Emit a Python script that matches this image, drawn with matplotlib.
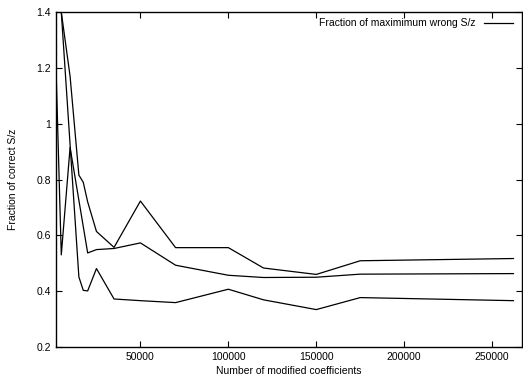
import matplotlib
matplotlib.use("Agg")
import matplotlib.pyplot as plt

plt.rcParams['font.family'] = ['Liberation Sans', 'DejaVu Sans']

# number of modified coefficients
x_top = [5000, 10000, 15000, 17500, 20000, 25000, 35000, 50000, 70000,
         100000, 120000, 150000, 175000, 262144]
y_top = [1.40, 1.17, 0.816, 0.79, 0.72, 0.614, 0.557, 0.723, 0.556,
         0.556, 0.483, 0.460, 0.509, 0.517]

x_mid = [2000, 5000, 10000, 20000, 25000, 35000, 50000, 70000,
         100000, 120000, 150000, 175000, 262144]
y_mid = [1.20, 0.53, 0.915, 0.537, 0.549, 0.553, 0.573, 0.493,
         0.457, 0.449, 0.450, 0.461, 0.463]

x_low = [5000, 15000, 17500, 20000, 25000, 35000, 50000, 70000,
         100000, 120000, 150000, 175000, 262144]
y_low = [1.40, 0.451, 0.403, 0.401, 0.481, 0.372, 0.366, 0.359,
         0.407, 0.369, 0.334, 0.377, 0.366]

xticks = [50000, 100000, 150000, 200000, 250000]
yticks = [0.2, 0.4, 0.6, 0.8, 1.0, 1.2, 1.4]
ytick_labels = ['0.2', '0.4', '0.6', '0.8', '1', '1.2', '1.4']

fig = plt.figure(figsize=(5.23, 3.84), dpi=100)
ax = fig.add_axes([0.1071, 0.0964, 0.891, 0.872])

ax.plot(x_top, y_top, color='black', lw=0.9,
        label='Fraction of maximimum wrong S/z')
ax.plot(x_mid, y_mid, color='black', lw=0.9)
ax.plot(x_low, y_low, color='black', lw=0.9)

ax.set_xlim(2000, 267000)
ax.set_ylim(0.2, 1.4)
ax.set_xticks(xticks)
ax.set_xticklabels([str(v) for v in xticks])
ax.set_yticks(yticks)
ax.set_yticklabels(ytick_labels)
ax.tick_params(direction='in', length=4, width=0.8, labelsize=7.5,
               top=True, right=True, colors='black')
for s in ax.spines.values():
    s.set_linewidth(1.0)

ax.set_xlabel('Number of modified coefficients', fontsize=7.5, labelpad=3)
ax.set_ylabel('Fraction of correct S/z', fontsize=7.5, labelpad=13)

ax.legend(loc='upper right', frameon=False, markerfirst=False, fontsize=7.5,
          handlelength=2.8, handletextpad=0.8, borderaxespad=0.2,
          bbox_to_anchor=(0.995, 1.0))

fig.savefig('out.png', dpi=100)
